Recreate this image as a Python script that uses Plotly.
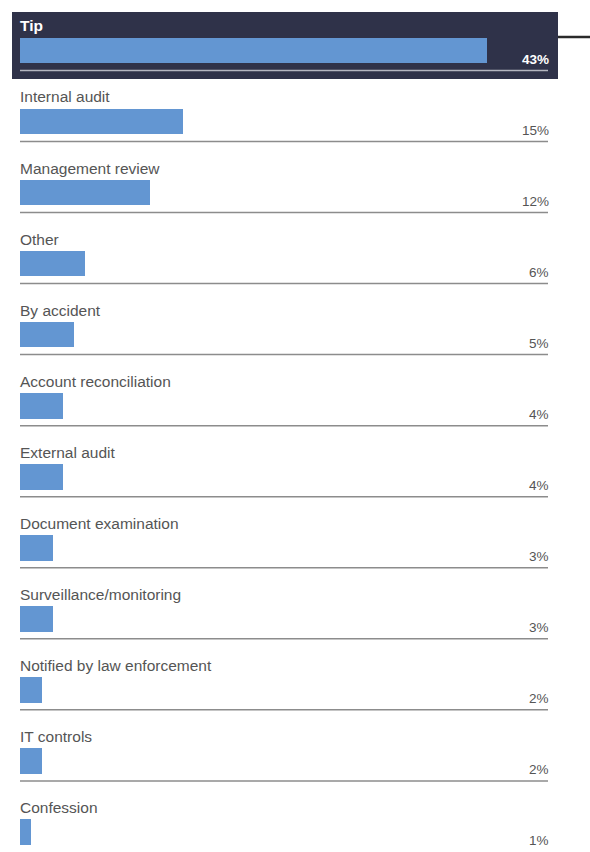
import plotly.graph_objects as go

categories = ["Tip", "Internal audit", "Management review", "Other", "By accident",
              "Account reconciliation", "External audit", "Document examination",
              "Surveillance/monitoring", "Notified by law enforcement", "IT controls",
              "Confession"]
values = [43, 15, 12, 6, 5, 4, 4, 3, 3, 2, 2, 1]
pct_labels = [f"{v}%" for v in values]

W, H = 590, 852
BAR_COLOR = "#6396d2"
BOX_COLOR = "#2f3249"
TEXT_COLOR = "#555555"
FONT = "Liberation Sans, Arial, sans-serif"

idx = list(range(len(categories)))

fig = go.Figure()
fig.add_trace(go.Bar(
    x=values, y=idx, orientation="h",
    marker=dict(color=BAR_COLOR, line=dict(width=0)),
    width=0.36, hoverinfo="skip",
))

annotations = []
shapes = []

# highlight box for the top row
shapes.append(dict(type="rect", xref="paper", yref="paper",
                   x0=12 / W, x1=558 / W, y0=1 - 79 / H, y1=1 - 12 / H,
                   fillcolor=BOX_COLOR, line=dict(width=0), layer="below"))
shapes.append(dict(type="line", xref="paper", yref="paper",
                   x0=558 / W, x1=1.0, y0=1 - 37 / H, y1=1 - 37 / H,
                   line=dict(color="#2a2a2a", width=2.5)))

for i, (cat, lab) in enumerate(zip(categories, pct_labels)):
    first = i == 0
    annotations.append(dict(
        x=0, y=i - 0.346, xref="x", yref="y",
        text=f"<b>{cat}</b>" if first else cat, showarrow=False,
        xanchor="left", yanchor="middle", xshift=-2,
        font=dict(family=FONT, size=15.5, color="#ffffff" if first else TEXT_COLOR),
    ))
    annotations.append(dict(
        x=551 / W, y=i + 0.12, xref="paper", yref="y",
        text=f"<b>{lab}</b>" if first else lab, showarrow=False,
        xanchor="right", yanchor="middle",
        font=dict(family=FONT, size=13.5, color="#ffffff" if first else TEXT_COLOR),
    ))
    if i < len(categories) - 1:
        shapes.append(dict(type="line", xref="paper", yref="y",
                           x0=20 / W, x1=548 / W, y0=i + 0.28, y1=i + 0.28,
                           line=dict(color="#b4b6c0" if first else "#8c8c8c", width=1.5)))

px_per_unit = (487 - 20) / 43
x0 = -20 / px_per_unit
x1 = x0 + W / px_per_unit
pitch = 71.05
first_center = 50.5

fig.update_layout(
    width=W, height=H,
    margin=dict(l=0, r=0, t=0, b=0),
    paper_bgcolor="white", plot_bgcolor="white",
    showlegend=False,
    xaxis=dict(range=[x0, x1], visible=False, fixedrange=True),
    yaxis=dict(range=[(H - first_center) / pitch, -first_center / pitch],
               visible=False, fixedrange=True),
    annotations=annotations,
    shapes=shapes,
    bargap=0,
)

fig.write_html("out.html", config={"displayModeBar": False})
